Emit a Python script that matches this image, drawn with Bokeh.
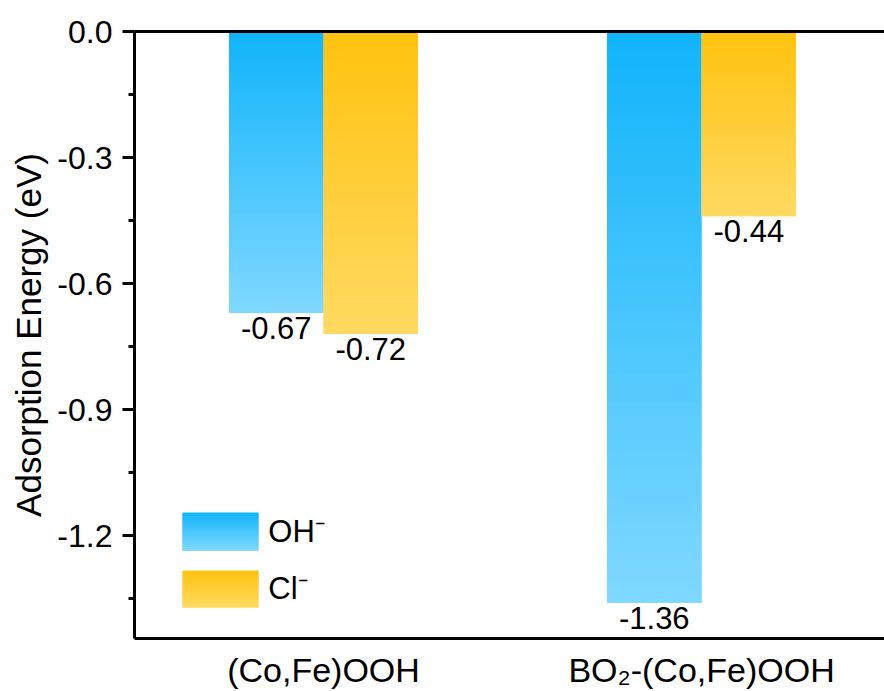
from bokeh.plotting import figure
from bokeh.models import Range1d, FixedTicker, PrintfTickFormatter, LinearAxis, ColumnDataSource
from bokeh.core.properties import value
from bokeh.embed import file_html
from bokeh.resources import INLINE

# Adsorption energies (eV) on the two catalyst surfaces
materials = ["(Co,Fe)OOH", "BO\u2082-(Co,Fe)OOH"]
species = ["OH\u207b", "Cl\u207b"]
oh_energy = [-0.67, -1.36]
cl_energy = [-0.72, -0.44]
y_ticks = [0.0, -0.3, -0.6, -0.9, -1.2]
y_minor = [-0.15, -0.45, -0.75, -1.05, -1.35]

FONT = "Liberation Sans"
OH_TOP, OH_BOT = (16, 180, 250), (128, 216, 255)
CL_TOP, CL_BOT = (255, 194, 14), (255, 218, 98)

p = figure(width=884, height=691, output_backend="svg", toolbar_location=None,
           x_range=Range1d(0, 1.984), y_range=Range1d(-1.445, 0.0),
           min_border_left=134, min_border_top=31, min_border_bottom=53, min_border_right=0)
p.outline_line_color = None
p.xgrid.visible = False
p.ygrid.visible = False
p.background_fill_color = "white"


def mix(c0, c1, t):
    r, g, b = (round(a + (b_ - a) * t) for a, b_ in zip(c0, c1))
    return f"#{r:02x}{g:02x}{b:02x}"


def gradient_bar(left, right, top, bottom, c_top, c_bot, n=80):
    # vertical colour ramp built from thin horizontal slices; each slice
    # reaches into the next one so no seams show between them
    d = dict(left=[], right=[], top=[], bottom=[], color=[])
    step = (bottom - top) / n
    for i in range(n):
        d["left"].append(left)
        d["right"].append(right)
        d["top"].append(top + step * i)
        d["bottom"].append(top + step * min(i + 2, n))
        d["color"].append(mix(c_top, c_bot, (i + 0.5) / n))
    p.quad(left="left", right="right", top="top", bottom="bottom", source=ColumnDataSource(d),
           fill_color="color", line_color=None)


bar_w = 0.25
centers = [0.5 + i for i in range(len(materials))]
for c, v_oh, v_cl in zip(centers, oh_energy, cl_energy):
    gradient_bar(c - bar_w, c, 0.0, v_oh, OH_TOP, OH_BOT)
    gradient_bar(c, c + bar_w, 0.0, v_cl, CL_TOP, CL_BOT)

# value labels under each bar end
lx = [c - bar_w / 2 for c in centers] + [c + bar_w / 2 for c in centers]
ly = oh_energy + cl_energy
p.text(x=lx, y=ly, text=[f"{v:.2f}" for v in ly], text_align="center", text_baseline="top",
       y_offset=4, text_font=value(FONT), text_font_size="31px", text_color="black")

# legend with gradient swatches
leg_x0, leg_x1 = 0.127, 0.328
gradient_bar(leg_x0, leg_x1, -1.145, -1.236, OH_TOP, OH_BOT, n=30)
gradient_bar(leg_x0, leg_x1, -1.283, -1.371, CL_TOP, CL_BOT, n=30)
p.text(x=[0.354, 0.354], y=[-1.1905, -1.327], text=species, text_align="left",
       text_baseline="middle", text_font=value(FONT), text_font_size="31px", text_color="black")

# y axis
ya = p.yaxis[0]
ya.ticker = FixedTicker(ticks=y_ticks, minor_ticks=y_minor)
ya.formatter = PrintfTickFormatter(format="%.1f")
ya.axis_label = "Adsorption Energy (eV)"
ya.axis_label_text_font = FONT
ya.axis_label_text_font_size = "35px"
ya.axis_label_text_font_style = "normal"
ya.axis_label_text_color = "black"
ya.axis_label_standoff = 6
ya.major_label_text_font = FONT
ya.major_label_text_font_size = "32px"
ya.major_label_text_color = "black"
ya.major_label_standoff = 10
ya.axis_line_color = "black"
ya.major_tick_line_color = "black"
ya.minor_tick_line_color = "black"
ya.axis_line_width = 3
ya.major_tick_line_width = 3
ya.minor_tick_line_width = 3
ya.major_tick_out = 12
ya.major_tick_in = 0
ya.minor_tick_out = 6
ya.minor_tick_in = 0

# x axis with category names
xa = p.xaxis[0]
xa.ticker = FixedTicker(ticks=centers, minor_ticks=[])
xa.major_label_overrides = {c: m for c, m in zip(centers, materials)}
xa.major_label_text_font = FONT
xa.major_label_text_font_size = "34px"
xa.major_label_text_color = "black"
xa.major_label_standoff = 6
xa.major_tick_line_color = None
xa.minor_tick_line_color = None
xa.axis_line_color = "black"
xa.axis_line_width = 3

# top frame line
top = LinearAxis(ticker=FixedTicker(ticks=[]), major_label_text_font_size="0px",
                 major_tick_line_color=None, minor_tick_line_color=None,
                 axis_line_color="black", axis_line_width=3)
p.add_layout(top, "above")

open("out.html", "w").write(file_html(p, INLINE))
